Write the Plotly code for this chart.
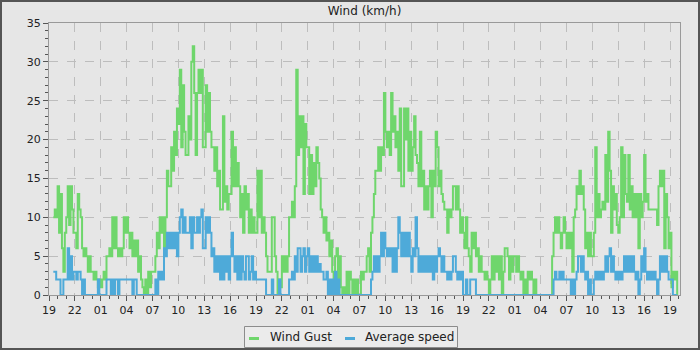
import pandas as pd
import plotly.graph_objects as go

# ---- data (10-minute samples, first sample 19:30 of day 1) ----
start_time = "2024-06-01 19:30"
axis_start = "2024-06-01 19:00"

gust = [
    10, 11, 10,
    14, 8, 13, 6, 3, 8,
    10, 14, 9, 14, 11, 8,
    8, 6, 13, 11, 10, 6,
    5, 6, 5, 3, 5, 3,
    3, 2, 3, 2, 1, 2,
    1, 2, 3, 2, 5, 5,
    6, 5, 10, 6, 10, 6,
    5, 6, 5, 6, 10, 8,
    10, 8, 6, 8, 5, 7,
    5, 7, 3, 5, 2, 1,
    0, 2, 0, 3, 1, 3,
    3, 3, 5, 8, 6, 10,
    8, 10, 6, 10, 16, 14,
    14, 19, 16, 21, 18, 24,
    22, 29, 19, 27, 21, 18,
    18, 23, 20, 30, 32, 26,
    18, 26, 29, 26, 29, 19,
    19, 27, 21, 26, 21, 19,
    19, 16, 19, 14, 16, 11,
    11, 23, 12, 14, 11, 13,
    13, 21, 14, 19, 14, 17,
    14, 10, 13, 8, 14, 11,
    13, 8, 11, 8, 10, 8,
    8, 16, 10, 16, 8, 10,
    8, 5, 3, 3, 3, 10,
    10, 5, 3, 0, 2, 1,
    5, 3, 5, 3, 5, 10,
    10, 12, 10, 14, 29, 18,
    23, 19, 23, 13, 22, 19,
    19, 13, 18, 13, 17, 14,
    19, 17, 15, 11, 10, 8,
    10, 7, 8, 5, 7, 3,
    0, 5, 6, 0, 5, 1,
    0, 1, 0, 3, 0, 3,
    2, 0, 2, 0, 2, 0,
    0, 3, 2, 3, 3, 5,
    6, 3, 8, 10, 13, 16,
    16, 19, 16, 19, 18, 26,
    21, 19, 21, 18, 26, 21,
    23, 19, 21, 16, 24, 14,
    14, 24, 20, 24, 16, 21,
    16, 19, 23, 18, 17, 14,
    21, 14, 16, 11, 14, 11,
    14, 16, 10, 16, 14, 21,
    19, 14, 16, 13, 12, 11,
    11, 8, 11, 10, 11, 14,
    14, 11, 14, 11, 8, 10,
    8, 6, 10, 6, 5, 3,
    8, 6, 8, 5, 6, 3,
    5, 3, 3, 2, 3, 2,
    0, 2, 5, 2, 5, 3,
    5, 2, 5, 0, 3, 6,
    6, 5, 2, 5, 3, 5,
    5, 3, 5, 3, 2, 3,
    0, 2, 0, 3, 2, 3,
    2, 0, 2, 0, 0, 0,
    0, 0, 0, 0, 0, 0,
    0, 0, 5, 8, 10, 8,
    10, 8, 6, 8, 10, 8,
    6, 8, 6, 8, 3, 10,
    11, 14, 13, 16, 13, 14,
    11, 6, 8, 5, 8, 5,
    5, 8, 19, 10, 13, 10,
    11, 12, 11, 18, 12, 21,
    16, 8, 14, 11, 13, 9,
    8, 10, 19, 10, 18, 13,
    12, 18, 11, 14, 10, 13,
    10, 13, 6, 13, 10, 12,
    18, 12, 13, 11, 11, 11,
    11, 11, 11, 9, 14, 16,
    14, 16, 6, 13, 10, 6,
    8, 1, 3, 2, 3, 0,
]

avg = [
    3, 3, 2,
    2, 2, 0, 0, 2, 2,
    2, 6, 2, 5, 2, 3,
    3, 2, 3, 3, 2, 0,
    2, 0, 0, 0, 0, 0,
    0, 0, 0, 0, 2, 0,
    0, 0, 0, 0, 2, 2,
    2, 0, 2, 0, 2, 2,
    0, 2, 2, 2, 2, 2,
    2, 2, 2, 2, 0, 2,
    2, 0, 0, 0, 0, 0,
    0, 0, 0, 0, 0, 0,
    0, 0, 2, 0, 3, 2,
    3, 2, 6, 5, 8, 6,
    8, 6, 8, 6, 8, 5,
    8, 10, 11, 8, 10, 8,
    8, 8, 10, 6, 10, 8,
    8, 10, 8, 10, 11, 6,
    6, 10, 8, 10, 8, 5,
    6, 3, 5, 3, 5, 2,
    5, 2, 5, 3, 5, 2,
    5, 8, 5, 3, 5, 2,
    5, 2, 5, 3, 2, 5,
    5, 2, 3, 5, 2, 3,
    2, 2, 2, 2, 2, 2,
    2, 0, 0, 0, 0, 2,
    0, 0, 0, 0, 2, 0,
    0, 0, 0, 0, 0, 2,
    2, 3, 2, 5, 3, 6,
    6, 3, 5, 6, 3, 5,
    6, 3, 5, 3, 5, 3,
    5, 3, 4, 3, 3, 2,
    2, 3, 0, 2, 0, 2,
    0, 3, 0, 2, 0, 0,
    0, 0, 0, 0, 0, 0,
    0, 0, 0, 0, 0, 0,
    0, 0, 0, 0, 0, 0,
    0, 0, 2, 3, 5, 3,
    5, 3, 5, 8, 5, 8,
    6, 5, 6, 5, 6, 3,
    6, 3, 6, 10, 8, 5,
    8, 5, 8, 5, 8, 5,
    3, 6, 5, 10, 6, 3,
    5, 3, 5, 3, 5, 3,
    5, 3, 5, 2, 5, 3,
    5, 6, 5, 3, 5, 3,
    3, 2, 3, 2, 3, 5,
    5, 3, 2, 3, 2, 3,
    0, 0, 2, 0, 0, 2,
    2, 2, 2, 0, 0, 0,
    0, 0, 0, 0, 0, 0,
    0, 0, 0, 0, 0, 0,
    0, 0, 0, 0, 0, 0,
    0, 0, 0, 0, 0, 0,
    0, 0, 0, 0, 0, 0,
    0, 0, 0, 0, 0, 0,
    0, 0, 0, 0, 0, 0,
    0, 0, 0, 0, 0, 0,
    0, 0, 0, 2, 3, 2,
    2, 3, 2, 3, 2, 2,
    2, 2, 2, 0, 2, 0,
    2, 3, 5, 5, 3, 5,
    3, 2, 3, 0, 2, 0,
    0, 2, 3, 2, 3, 2,
    3, 2, 3, 5, 3, 5,
    6, 3, 5, 3, 2, 3,
    2, 3, 2, 3, 5, 3,
    5, 3, 5, 3, 5, 3,
    2, 3, 0, 2, 5, 3,
    6, 3, 2, 3, 2, 3,
    2, 3, 2, 0, 2, 5,
    3, 5, 3, 5, 3, 2,
    2, 2, 0, 0, 0, 0,
]

series_names = ["Wind Gust", "Average speed"]
title_text = "Wind (km/h)"

# ---- styling ----
GREEN = "#6fd66c"
BLUE = "#4eaad9"
BG = "#e6e6e6"
GRID = "#bdbdbd"
FRAME = "#555555"
FONT = "DejaVu Sans"
colors = [GREEN, BLUE]

times = pd.date_range(start_time, periods=len(gust), freq="10min")
t0 = pd.Timestamp(axis_start)
t_end = t0 + pd.Timedelta(hours=73.16)

W, H = 700, 350
L, R, T, B = 49, 20, 23, 55
pw, ph = W - L - R, H - T - B


def px(xp):
    return (xp - L) / pw


def py(yp):
    return (H - B - yp) / ph


fig = go.Figure()
fig.add_trace(go.Scatter(x=times, y=gust, name=series_names[0], mode="lines",
                         line=dict(color=GREEN, width=2, shape="hv")))
fig.add_trace(go.Scatter(x=times, y=avg, name=series_names[1], mode="lines",
                         line=dict(color=BLUE, width=2, shape="hv")))

fig.update_layout(
    width=W, height=H, autosize=False,
    margin=dict(l=L, r=R, t=T, b=B, pad=0),
    paper_bgcolor=BG, plot_bgcolor=BG,
    font=dict(family=FONT, size=11, color="#222222"),
    title=dict(text=title_text, x=0.5, xref="paper", xanchor="center",
               y=1 - 11 / H, yanchor="middle", font=dict(size=12, color="#222222")),
    showlegend=False,
    xaxis=dict(type="date", range=[t0, t_end], tickformat="%H",
               tick0=t0, dtick=3 * 3600000,
               ticks="outside", ticklen=5, tickcolor="#555555", tickwidth=1,
               showgrid=True, gridcolor=GRID, griddash="dash", gridwidth=1,
               minor=dict(dtick=3600000, ticks="outside", ticklen=3,
                          tickcolor="#555555", showgrid=False),
               showline=True, linecolor="#999999", linewidth=1, mirror=True,
               zeroline=False, tickfont=dict(size=11), automargin=False),
    xaxis2=dict(type="date", range=[t0, t_end], overlaying="x", side="top",
                tick0=t0, dtick=3 * 3600000, ticks="inside", ticklen=5,
                tickcolor="#777777", showticklabels=False, showgrid=False,
                showline=False, zeroline=False, automargin=False),
    yaxis=dict(range=[0, 35], dtick=5, tick0=0,
               ticks="outside", ticklen=5, tickcolor="#555555",
               showgrid=True, gridcolor=GRID, griddash="dash",
               minor=dict(dtick=1, ticks="outside", ticklen=3,
                          tickcolor="#555555", showgrid=False),
               showline=True, linecolor="#999999", linewidth=1, mirror=True,
               zeroline=False, tickfont=dict(size=11), automargin=False),
)

# outer frame
fig.add_shape(type="rect", xref="paper", yref="paper",
              x0=px(0), x1=px(W), y0=py(H), y1=py(0),
              line=dict(color=FRAME, width=4), fillcolor="rgba(0,0,0,0)",
              layer="above")

# legend box (drawn as shapes + text)
fig.add_shape(type="rect", xref="paper", yref="paper",
              x0=px(244.5), x1=px(457.5), y0=py(347.5), y1=py(326.5),
              line=dict(color="#8c8c8c", width=1), fillcolor="#ebebeb",
              layer="above")
legend_sym_x = [249, 345]
legend_txt_x = [268, 363]
for name, col, sx, tx in zip(series_names, colors, legend_sym_x, legend_txt_x):
    fig.add_shape(type="line", xref="paper", yref="paper",
                  x0=px(sx), x1=px(sx + 10), y0=py(338.5), y1=py(338.5),
                  line=dict(color=col, width=3), layer="above")
    fig.add_annotation(text=name, xref="paper", yref="paper",
                       x=px(tx), y=py(337), xanchor="left", yanchor="middle",
                       showarrow=False, font=dict(size=12, color="#222222"))

fig.write_html("out.html")
